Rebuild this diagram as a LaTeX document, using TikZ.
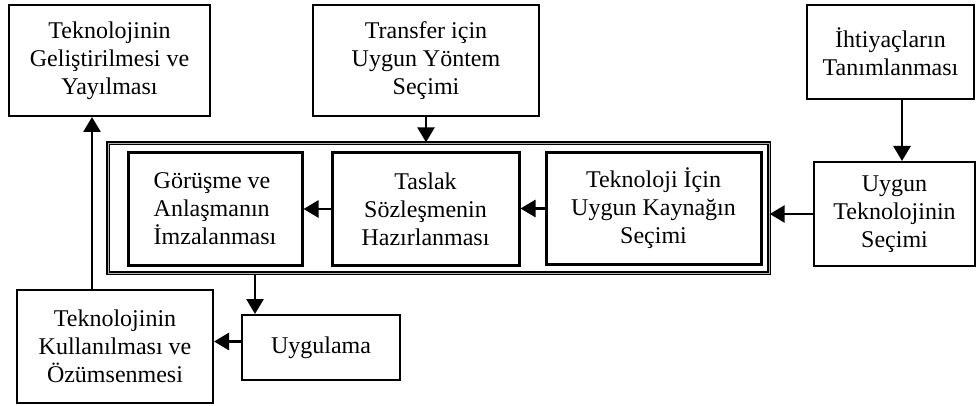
\documentclass[tikz,border=0pt]{standalone}
\usepackage{fontspec}
\setmainfont{Liberation Serif}
\usetikzlibrary{arrows.meta}
\begin{document}
\begin{tikzpicture}[x = .5pt, y = -.5pt,
    every node/.style = {font = \fontsize{12}{14}\selectfont, inner sep = 0pt, align = center},
    box/.style = {draw, line width = 1pt},
    stage/.style = {draw, line width = 1.5pt},
    frame/.style = {draw, double = gray!60, line width = .7pt, double distance = .3pt},
    flow/.style = {-{Triangle[length = 7.5pt, width = 8.5pt]}, line width = 1.4pt}]
  \useasboundingbox (0,0) rectangle (979,406);
  \node [box, minimum width = 100.5pt, minimum height = 55.5pt] (gelistirme)
    at (109.5,60.5) {Teknolojinin\\Geliştirilmesi ve\\Yayılması};
  \node [box, minimum width = 113pt, minimum height = 55.5pt] (transfer)
    at (426,60.5) {Transfer için\\Uygun Yöntem\\Seçimi};
  \node [box, minimum width = 83.5pt, minimum height = 47pt] (ihtiyac)
    at (890.5,52) {İhtiyaçların\\Tanımlanması};
  \node [frame, minimum width = 330.5pt, minimum height = 65pt] (cerceve)
    at (438.5,208) {};
  \node [stage, minimum width = 87pt, minimum height = 56pt, align = left] (gorusme)
    at (215,209) {Görüşme ve\\Anlaşmanın\\İmzalanması};
  \node [stage, minimum width = 93.5pt, minimum height = 56pt] (taslak)
    at (425.5,209) {Taslak\\Sözleşmenin\\Hazırlanması};
  \node [stage, minimum width = 107.5pt, minimum height = 55.5pt] (kaynak)
    at (653.5,208.5) {Teknoloji İçin\\Uygun Kaynağın\\Seçimi};
  \node [box, minimum width = 80.5pt, minimum height = 52pt] (uygun)
    at (894.5,214) {Uygun\\Teknolojinin\\Seçimi};
  \node [box, minimum width = 98pt, minimum height = 56.5pt] (kullanim)
    at (115,346.5) {Teknolojinin\\Kullanılması ve\\Özümsenmesi};
  \node [box, minimum width = 79pt, minimum height = 32.5pt] (uygulama)
    at (321,347.5) {Uygulama};
  \coordinate (ihtiyacout) at ([xshift = 5.75pt]ihtiyac.south);
  \coordinate (uygulamain) at ([xshift = 7pt]uygulama.north west);
  \coordinate (uygulamaout) at ([yshift = 3pt]uygulama.west);
  \coordinate (kullanimout) at ([xshift = 38pt]kullanim.north west);
  \draw [flow] (transfer.south) -- (transfer.south |- cerceve.north);
  \draw [flow] (ihtiyacout) -- (ihtiyacout |- uygun.north);
  \draw [flow] (uygun.west) -- (uygun.west -| cerceve.east);
  \draw [flow] (kaynak.west) -- (kaynak.west -| taslak.east);
  \draw [flow] (taslak.west) -- (taslak.west -| gorusme.east);
  \draw [flow] (uygulamain |- cerceve.south) -- (uygulamain);
  \draw [flow] (uygulamaout) -- (uygulamaout -| kullanim.east);
  \draw [flow] (kullanimout) -- (kullanimout |- gelistirme.south);
\end{tikzpicture}
\end{document}
